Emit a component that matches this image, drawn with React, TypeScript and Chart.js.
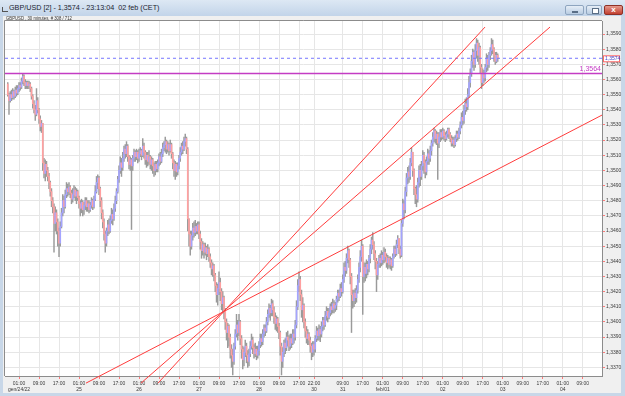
import React, { useEffect, useRef } from "react";
import { Chart, registerables } from "chart.js";
Chart.register(...registerables);

// Prices are stored as pips above 1.3300 (e.g. 274 -> 1,3574). One value per 30-minute bar.
const PIP_BASE = 1.33;
const firstOpen = 257;
const closes = [
  250,246,250,248,252,249,253,251, 254,256,255,259,262,258,256,258,
  256,257,254,249,244,240,237,246, 240,234,229,231,205,198,204,200,
  196,192,186,180,176,165,172,166, 160,152,163,172,180,176,184,188,
  186,189,185,181,184,187,183,186, 182,178,175,179,174,177,180,176,
  178,174,177,180,176,181,186,192, 195,188,180,172,166,158,152,160,
  164,160,167,171,168,175,180,186, 194,200,205,202,208,214,211,216,
  209,204,207,203,208,212,209,212, 208,211,213,210,216,212,207,210,
  206,209,204,207,203,200,204,201, 205,209,206,211,215,217,219,214,217,
  213,217,211,205,200,204,199,203, 208,212,216,214,219,221,214,168,
  158,150,157,162,159,163,160,164, 158,153,147,151,146,149,145,148,
  143,139,135,137,131,124,118,122, 126,120,112,116,107,100,93,97,
  90,82,78,74,84,92,98,93, 100,89,82,75,80,84,78,74,
  79,84,88,83,79,82,78,81, 85,89,87,92,96,94,100,105,
  109,106,112,108,103,99,102,97, 93,84,74,80,86,83,90,88,
  84,89,86,92,90,98,110,124, 128,118,108,111,100,94,89,92,
  88,84,80,85,82,89,94,91, 95,92,97,101,98,104,107,103,
  106,110,108,112,109,111,115,119, 117,122,120,128,136,134,142,147,
  141,130,118,114,119,116,121,128, 136,143,150,130,136,132,138,135,
  142,148,154,151,145,140,131,138, 142,139,144,141,146,143,139,142,
  138,141,137,143,148,145,151,155, 148,144,165,178,174,186,195,199,
  196,205,212,200,188,184,181,192,200, 196,203,210,205,199,206,211,208,
  213,218,222,226,221,224,218,222, 225,222,226,223,221,224,227,224,
  221,218,220,217,221,224,222,226, 230,235,233,240,244,242,250,258,
  264,272,278,270,279,284,276,281, 268,258,264,261,268,274,270,276,
  279,283,280,276,272,276,274,
];
const highs = [
  258,251,252,253,254,253,255,256, 256,258,258,261,264,263,260,259,
  259,259,258,255,250,246,243,254, 248,241,236,233,231,208,207,206,
  202,198,193,188,182,178,176,174, 168,162,166,175,184,183,187,192,
  191,192,190,187,188,190,189,188, 187,183,180,181,180,179,182,182,
  180,180,179,182,181,183,190,196, 197,196,189,182,174,168,160,162,
  167,168,170,175,174,178,183,188, 196,203,209,208,212,216,217,219,
  217,210,209,208,210,214,213,214, 213,214,215,214,221,218,213,212,
  212,213,210,209,208,205,206,206, 207,211,212,214,218,219,222,220,219,
  218,220,218,212,207,206,205,205, 210,215,218,219,222,224,222,215,
  168,160,160,165,166,167,165,166, 166,160,155,153,152,152,150,151,
  149,145,141,139,138,132,126,125, 133,129,122,120,117,109,102,99,
  98,92,85,82,86,95,105,101, 105,101,91,84,83,88,86,81,
  82,87,92,90,85,86,84,84, 87,92,92,95,98,98,103,108,
  112,111,115,114,110,106,104,103, 99,94,86,83,88,89,93,94,
  91,92,92,95,95,101,114,128, 133,130,121,116,112,102,97,95,
  93,90,86,87,87,91,97,96, 98,97,100,103,103,107,110,109,
  109,112,113,115,114,113,117,121, 121,125,126,131,139,140,145,150,
  148,142,132,121,121,122,124,131, 139,147,154,151,139,139,141,140,
  144,151,156,159,153,147,142,140, 144,145,147,146,149,148,145,144,
  143,143,142,145,150,150,154,157, 155,150,167,181,180,189,198,202,
  203,208,215,212,201,189,190,195,203, 204,206,213,212,207,209,214,213,
  216,220,225,228,227,226,225,225, 227,227,228,227,225,226,228,228,
  225,223,222,222,223,226,226,228, 232,238,239,243,247,248,254,262,
  267,276,280,279,283,287,286,284, 282,270,267,266,270,277,276,278,
  281,287,286,281,278,278,277,
];
const lows = [
  249,237,245,246,247,247,248,249, 250,252,253,254,257,256,254,254,
  254,254,252,247,241,238,233,236, 238,231,226,225,200,195,193,196,
  193,188,183,176,172,146,160,158, 150,143,150,162,170,172,175,182,
  183,184,182,178,179,182,180,178, 180,175,170,172,170,171,174,173,
  173,172,173,175,174,175,180,185, 188,184,176,168,162,154,146,150,
  157,158,159,165,164,167,173,178, 185,192,198,196,200,206,208,209,
  206,201,200,161,200,206,206,207, 205,206,209,207,209,208,204,202,
  203,204,201,200,198,196,197,199, 199,203,204,205,209,213,212,211,212,
  210,212,208,201,196,194,196,197, 201,206,210,211,213,216,211,160,
  150,144,148,154,156,157,158,158, 155,148,142,144,142,144,141,143,
  140,136,131,130,127,120,113,111, 118,114,108,106,102,95,88,83,
  84,76,70,65,72,82,90,88, 91,85,76,69,71,77,73,70,
  71,77,82,79,76,77,75,76, 78,83,84,85,90,91,93,98,
  103,101,104,104,99,95,94,93, 89,78,65,70,77,79,81,84,
  81,82,83,85,86,88,96,108, 120,114,103,100,96,90,86,85,
  85,80,75,77,78,80,87,88, 88,87,90,94,95,97,101,100,
  102,104,105,106,106,107,108,113, 114,116,117,119,126,130,132,139,
  136,125,93,109,110,112,113,119, 126,133,140,105,126,127,129,131,
  133,139,145,148,141,135,120,128, 136,136,137,138,139,140,136,135,
  136,135,134,136,142,143,144,149, 145,142,143,163,168,172,183,191,
  192,194,203,196,184,178,176,179,189, 190,194,200,198,195,197,204,204,
  206,210,216,219,218,217,194,215, 219,220,221,220,219,220,222,221,
  219,216,216,215,216,219,220,221, 224,228,230,231,237,239,240,248,
  255,262,268,266,268,274,272,270, 264,254,256,258,259,265,266,268,
  273,276,277,272,270,271,272,
];

// Time axis: bar index of each labelled tick, its time and its date label
const tickBars = [9,25,41,57,73,89,105,121,137,153,169,185,201,217,233,245,268,284,300,316,332,348,364,380,396,412,428,444,460];
const tickTimes = ["01:00","09:00","17:00","01:00","09:00","17:00","01:00","09:00","17:00","01:00","09:00","17:00","01:00","09:00","17:00","22:00","09:00","17:00","01:00","09:00","17:00","01:00","09:00","17:00","01:00","09:00","17:00","01:00","09:00"];
const tickDates = ["gen/24/22","","","25","","","26","","","27","","","28","","","30","31","","feb/01","","","02","","","03","","","04",""];

// Drawn objects: trend lines as [bar, pips] end points, and horizontal levels
const trendSteep = [[120.2, 59.6], [381.8, 294.6]];
const trendMiddle = [[106.6, 59.6], [433.8, 294.6]];
const trendShallow = [[62.6, 59.6], [475.4, 236.5]];
const lastPrice = 274;
const alertLevel = 264;

const X_MIN = -2.2;
const X_MAX = 475.4;
const Y_MIN = 64.3;
const Y_MAX = 298.6;

const FONT = '"Liberation Sans", Arial, sans-serif';
const fmt = (p: number) => (PIP_BASE + p / 10000).toFixed(4).replace(".", ",");

export default function App() {
  const ref = useRef<HTMLCanvasElement | null>(null);

  useEffect(() => {
    document.body.style.margin = "0";
    const canvas = ref.current;
    if (!canvas) return;
    const opens = closes.map((c, i) => (i === 0 ? firstOpen : closes[i - 1]));
    const bodyColors = closes.map((c, i) => (c >= opens[i] ? "#a4a4ff" : "#ffa0a0"));
    const hline = (v: number) => [{ x: X_MIN, y: v }, { x: X_MAX, y: v }];
    const seg = (s: number[][]) => s.map(([x, y]) => ({ x, y }));

    const framePlugin = {
      id: "frame",
      beforeDraw(chart: any) {
        const { ctx, chartArea } = chart;
        const { left, top, right, bottom } = chartArea;
        ctx.save();
        ctx.fillStyle = "#ffffff";
        ctx.fillRect(left, top, right - left, bottom - top);
        ctx.restore();
      },
      afterDraw(chart: any) {
        const { ctx, chartArea } = chart;
        const { left, top, right, bottom } = chartArea;
        ctx.save();
        ctx.strokeStyle = "#8c8c8c";
        ctx.lineWidth = 1;
        ctx.beginPath();
        ctx.moveTo(left - 0.5, bottom);
        ctx.lineTo(left - 0.5, top - 0.5);
        ctx.lineTo(right, top - 0.5);
        ctx.stroke();
        const ya = chart.scales.y.getPixelForValue(alertLevel);
        ctx.fillStyle = "#c43cc4";
        ctx.font = "7px " + FONT;
        ctx.textAlign = "right";
        ctx.textBaseline = "bottom";
        ctx.fillText(fmt(alertLevel), right - 1, ya - 0.5);
        const yp = chart.scales.y.getPixelForValue(lastPrice);
        ctx.fillStyle = "#ffffff";
        ctx.fillRect(right + 1, yp - 3, 16, 6);
        ctx.strokeStyle = "#ff6a6a";
        ctx.strokeRect(right + 1.5, yp - 2.5, 16, 6);
        ctx.fillStyle = "#3c3cc8";
        ctx.font = "5px " + FONT;
        ctx.textAlign = "left";
        ctx.textBaseline = "middle";
        ctx.fillText(fmt(lastPrice), right + 3, yp + 0.5);
        ctx.restore();
      },
    };

    const chart = new Chart(canvas, {
      type: "bar",
      data: {
        datasets: [
          { type: "line", data: seg(trendSteep), borderColor: "#ff3c3c", borderWidth: 1, pointRadius: 0, clip: false, order: 0 } as any,
          { type: "line", data: seg(trendMiddle), borderColor: "#ff3c3c", borderWidth: 1, pointRadius: 0, clip: false, order: 0 } as any,
          { type: "line", data: seg(trendShallow), borderColor: "#ff3c3c", borderWidth: 1, pointRadius: 0, clip: false, order: 0 } as any,
          { type: "line", data: hline(alertLevel), borderColor: "#c43cc4", borderWidth: 1.5, pointRadius: 0, order: 1 } as any,
          { type: "line", data: hline(lastPrice), borderColor: "#7676ff", borderWidth: 1, borderDash: [3, 3], pointRadius: 0, order: 1 } as any,
          { type: "bar", data: closes.map((c, i) => ({ x: i, y: [opens[i], c] })), backgroundColor: bodyColors, barThickness: 1, grouped: false, minBarLength: 1, order: 2 } as any,
          { type: "bar", data: highs.map((h, i) => ({ x: i, y: [lows[i], h] })), backgroundColor: "#9a9a9a", barThickness: 0.8, grouped: false, order: 3 } as any,
        ],
      },
      options: {
        animation: false,
        responsive: false,
        devicePixelRatio: 1,
        layout: { padding: { left: 5, top: 21, right: 0, bottom: 0 } },
        plugins: { legend: { display: false }, tooltip: { enabled: false } },
        scales: {
          x: {
            type: "linear",
            min: X_MIN,
            max: X_MAX,
            offset: false,
            afterBuildTicks: (s: any) => {
              s.ticks = tickBars.map((v) => ({ value: v }));
            },
            afterFit: (s: any) => {
              s.height = 20;
            },
            grid: { color: "#e6e6e6", tickColor: "#ff7a7a", tickLength: 3, offset: false },
            border: { color: "#8c8c8c" },
            ticks: {
              autoSkip: false,
              maxRotation: 0,
              padding: 1,
              color: "#3a3a3a",
              font: { size: 5, family: FONT, lineHeight: 1.25 },
              callback: (_v: any, i: number) => [tickTimes[i], tickDates[i]],
            },
          },
          y: {
            type: "linear",
            position: "right",
            min: Y_MIN,
            max: Y_MAX,
            afterFit: (s: any) => {
              s.width = 23;
            },
            grid: { color: "#e6e6e6", tickColor: "#ff7a7a", tickLength: 3 },
            border: { color: "#8c8c8c" },
            ticks: {
              stepSize: 10,
              includeBounds: false,
              padding: 1,
              color: "#3a3a3a",
              font: { size: 5, family: FONT },
              callback: (v: any) => fmt(Number(v)),
            },
          },
        },
      } as any,
      plugins: [framePlugin],
    });
    return () => chart.destroy();
  }, []);

  const btn = (left: number, width: number, bg: string, border: string): React.CSSProperties => ({
    position: "absolute", left, top: 5, width, height: 10, borderRadius: 2, background: bg,
    border: "1px solid " + border, boxSizing: "border-box",
  });

  return (
    <div style={{ position: "fixed", left: 0, top: 0, width: 625, height: 396, background: "#c8d7e8", overflow: "hidden", fontFamily: FONT }}>
      <div style={{ position: "absolute", left: 0, top: 0, width: 625, height: 16, background: "linear-gradient(#dde8f4, #c2d4e9)" }} />
      <div style={{ position: "absolute", left: 2, top: 7, width: 5, height: 4, borderBottom: "1px solid #555", borderLeft: "1px solid #555" }} />
      <div style={{ position: "absolute", left: 9, top: 3, fontSize: 8, lineHeight: "10px", color: "#1b2430", whiteSpace: "nowrap", transform: "scaleX(0.9)", transformOrigin: "left top" }}>
        GBP/USD [2] - 1,3574 - 23:13:04&nbsp; 02 feb (CET)
      </div>
      <div style={btn(565, 19, "linear-gradient(#e6eef7, #b8cce2)", "#8ea5bf")}>
        <div style={{ position: "absolute", left: 6, top: 5, width: 6, height: 2, background: "#fff", border: "1px solid #5a6e86", boxSizing: "border-box" }} />
      </div>
      <div style={btn(586, 16, "linear-gradient(#e6eef7, #b8cce2)", "#8ea5bf")}>
        <div style={{ position: "absolute", left: 5, top: 2, width: 5, height: 4, border: "1px solid #5a6e86", background: "#fff" }} />
      </div>
      <div style={btn(604, 19, "linear-gradient(#e59a8e, #c23f2f)", "#8e3026")}>
        <div style={{ position: "absolute", left: 0, top: 0, width: 17, height: 8, color: "#fff", fontSize: 8, lineHeight: "8px", textAlign: "center", fontWeight: "bold" }}>x</div>
      </div>
      <div style={{ position: "absolute", left: 3, top: 16, width: 618, height: 377, background: "#f0f0f0" }} />
      <canvas ref={ref} width={625} height={396} style={{ position: "absolute", left: 0, top: 0, width: 625, height: 396 }} />
      <div style={{ position: "absolute", left: 6, top: 16, fontSize: 5, lineHeight: "5px", color: "#333", whiteSpace: "nowrap", transform: "scaleX(0.85)", transformOrigin: "left top" }}>
        GBPUSD , 30 minutes, # 308 / 712
      </div>
    </div>
  );
}
